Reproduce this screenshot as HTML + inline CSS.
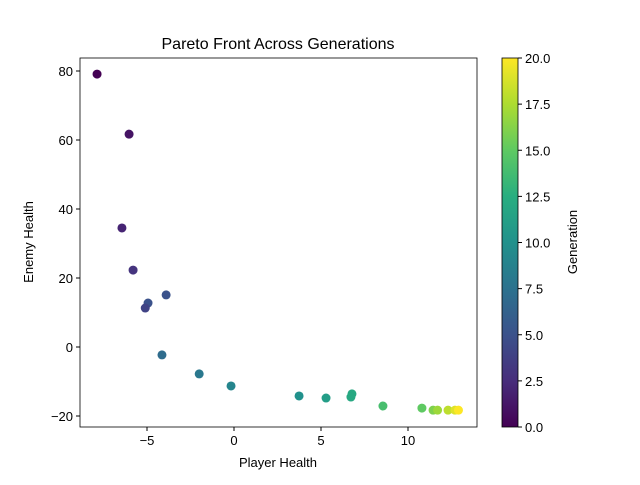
<!DOCTYPE html>
<html><head><meta charset="utf-8"><style>
body{margin:0;background:#fff}
svg{font-family:"Liberation Sans","DejaVu Sans",sans-serif}
</style></head><body>
<svg id="chart" width="640" height="480" xmlns="http://www.w3.org/2000/svg">
<defs><linearGradient id="vir" x1="0" y1="1" x2="0" y2="0">
<stop offset="0" stop-color="#440154"/><stop offset="0.125" stop-color="#472d7b"/><stop offset="0.25" stop-color="#3b528b"/><stop offset="0.375" stop-color="#2c728e"/><stop offset="0.5" stop-color="#21918c"/><stop offset="0.625" stop-color="#28ae80"/><stop offset="0.75" stop-color="#5ec962"/><stop offset="0.875" stop-color="#addc30"/><stop offset="1" stop-color="#fde725"/></linearGradient></defs>
<text x="278" y="49" font-size="16" text-anchor="middle">Pareto Front Across Generations</text>
<g id="plot"></g>
<rect x="502" y="58" width="16" height="369" fill="url(#vir)" stroke="#000" stroke-width="0.8"/>
<text transform="translate(577,242) rotate(-90)" font-size="13" text-anchor="middle">Generation</text>
<text x="278" y="467" font-size="13" text-anchor="middle">Player Health</text>
<text transform="translate(33,242) rotate(-90)" font-size="13" text-anchor="middle">Enemy Health</text>
</svg>
<script>
const xs=[-7.87,-6.03,-6.44,-5.8,-3.9,-4.94,-5.1,-4.14,-2.0,-0.17,3.74,5.29,6.78,6.72,8.56,10.8,11.44,11.7,12.3,12.7,12.9];
const ys=[79.1,61.7,34.5,22.3,15.1,12.75,11.3,-2.3,-7.8,-11.3,-14.2,-14.8,-13.6,-14.5,-17.1,-17.7,-18.3,-18.3,-18.3,-18.3,-18.3];
const gens=[0,1,2,3,5,5,4,7,8,9,10,11,12,12,14,15,16,17,18,19,20];
const xTicks=[-5,0,5,10];
const yTicks=[-20,0,20,40,60,80];
const cTicks=[0,2.5,5,7.5,10,12.5,15,17.5,20];
const L=80,R=477,T=58,B=427;
const X=v=>234+v*17.4, Y=v=>347-v*3.45, C=v=>B-(v/20)*(B-T);
const fmt=v=>String(v).replace("-","\u2212");
const stops=["#440154","#472d7b","#3b528b","#2c728e","#21918c","#28ae80","#5ec962","#addc30","#fde725"];
function col(g){let t=g/20*8,i=Math.min(7,Math.floor(t)),f=t-i;
const a=stops[i],b=stops[i+1],h=(s,k)=>parseInt(s.substr(1+2*k,2),16);
return "rgb("+[0,1,2].map(k=>Math.round(h(a,k)+(h(b,k)-h(a,k))*f)).join(",")+")";}
const ns="http://www.w3.org/2000/svg",g=document.getElementById("plot");
function mk(t,a,p){const e=document.createElementNS(ns,t);for(const k in a)e.setAttribute(k,a[k]);(p||g).appendChild(e);return e;}
const frame=mk("rect",{x:L,y:T,width:R-L,height:B-T,fill:"none",stroke:"#000","stroke-width":0.8});


xTicks.forEach(v=>{const x=X(v);mk("line",{x1:x,x2:x,y1:B,y2:B+4,stroke:"#000"});
const t=mk("text",{x:x,y:B+18,"font-size":13,"text-anchor":"middle"});t.textContent=fmt(v);

});
yTicks.forEach(v=>{const y=Y(v);mk("line",{x1:L-4,x2:L,y1:y,y2:y,stroke:"#000"});
const t=mk("text",{x:L-7,y:y+5,"font-size":13,"text-anchor":"end"});t.textContent=fmt(v);

});
cTicks.forEach(v=>{const y=C(v);mk("line",{x1:518,x2:522,y1:y,y2:y,stroke:"#000"});
const t=mk("text",{x:525,y:y+5,"font-size":13});t.textContent=v.toFixed(1);

});
xs.forEach((v,i)=>{const c=mk("circle",{cx:X(v),cy:Y(ys[i]),r:4.5,fill:col(gens[i])});

});
</script>
</body></html>
